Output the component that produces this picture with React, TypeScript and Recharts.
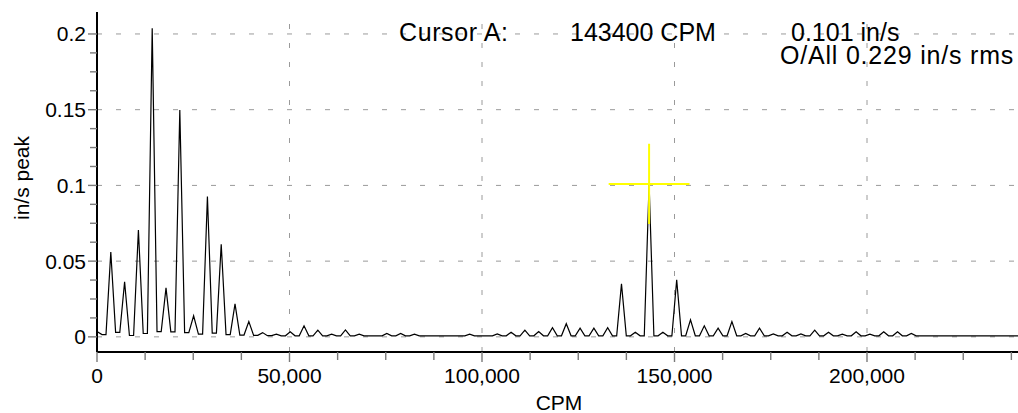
import React from 'react';
import { LineChart, Line, XAxis, YAxis, ReferenceLine } from 'recharts';

const FONT = '"Liberation Sans", Arial, Helvetica, sans-serif';

// Spectral lines: running-speed harmonics (CPM) and their peak amplitudes (in/s peak)
const harmonicCpm = [
  3585, 7170, 10755, 14340, 17925, 21510, 25095, 28680, 32265, 35850,
  39435, 43020, 46605, 50190, 53775, 57360, 60945, 64530, 68115, 71700,
  75285, 78870, 82455, 86040, 89625, 93210, 96795, 100380, 103965, 107550,
  111135, 114720, 118305, 121890, 125475, 129060, 132645, 136230, 139815, 143400,
  146985, 150570, 154155, 157740, 161325, 164910, 168495, 172080, 175665, 179250,
  182835, 186420, 190005, 193590, 197175, 200760, 204345, 207930, 211515,
];

const harmonicPeak = [
  0.056, 0.0363, 0.0706, 0.2037, 0.0323, 0.1498, 0.0139, 0.0926, 0.0612, 0.0218,
  0.0101, 0.0028, 0.0018, 0.0033, 0.0073, 0.0044, 0.0018, 0.0046, 0.0018, 0.0007,
  0.0022, 0.0022, 0.0018, 0.0007, 0.0007, 0.0007, 0.0018, 0.0007, 0.002, 0.0031,
  0.0044, 0.0035, 0.006, 0.0087, 0.0057, 0.0057, 0.006, 0.035, 0.003, 0.101,
  0.003, 0.0376, 0.0112, 0.0073, 0.0057, 0.0101, 0.0022, 0.0057, 0.002, 0.003,
  0.002, 0.0044, 0.003, 0.0018, 0.0033, 0.0018, 0.0033, 0.0033, 0.0022,
];

// Noise floor in the gap that follows each spectral line
const valleyAfter = [
  0.003, 0.0009, 0.0022, 0.0035, 0.0033, 0.0028, 0.0018, 0.0025, 0.0015, 0.0012,
  0.001, 0.0008, 0.0007, 0.0007, 0.0007, 0.0007, 0.0007, 0.0007, 0.0007, 0.0007,
  0.0007, 0.0007, 0.0007, 0.0007, 0.0007, 0.0007, 0.0007, 0.0007, 0.0007, 0.0007,
  0.0007, 0.0007, 0.0007, 0.0007, 0.0007, 0.0007, 0.0007, 0.0007, 0.0007, 0.0007,
  0.0007, 0.0007, 0.0007, 0.0007, 0.0007, 0.0007, 0.0007, 0.0007, 0.0007, 0.0007,
  0.0007, 0.0007, 0.0007, 0.0007, 0.0007, 0.0007, 0.0007, 0.0007, 0.0007,
];

const spectrumStart = [
  { cpm: 0, v: 0.0035 },
  { cpm: 1300, v: 0.0015 },
];
const spectrumEnd = { cpm: 240000, v: 0.0007 };

// Cursor readout
const cursorCpm = 143400;
const cursorValue = 0.101;
const overallRms = 0.229;

// Axis ticks
const xTicks = [
  0, 12500, 25000, 37500, 50000, 62500, 75000, 87500, 100000, 112500,
  125000, 137500, 150000, 162500, 175000, 187500, 200000, 212500, 225000, 237500,
];
const xMajor = [0, 50000, 100000, 150000, 200000];
const yTicks = [
  0, 0.0125, 0.025, 0.0375, 0.05, 0.0625, 0.075, 0.0875, 0.1,
  0.1125, 0.125, 0.1375, 0.15, 0.1625, 0.175, 0.1875, 0.2,
];
const yMajor = [0, 0.05, 0.1, 0.15, 0.2];

// half-width of each spectral line at its base, CPM
const LINE_HALF_WIDTH = 1250;
// crosshair half extents
const CROSS_HALF_X = 10500;
const CROSS_HALF_Y = 0.0265;

function buildSpectrum() {
  const pts: { cpm: number; v: number }[] = [...spectrumStart];
  let prev = spectrumStart[spectrumStart.length - 1].v;
  harmonicCpm.forEach((c, i) => {
    pts.push({ cpm: c - LINE_HALF_WIDTH, v: prev });
    pts.push({ cpm: c, v: harmonicPeak[i] });
    pts.push({ cpm: c + LINE_HALF_WIDTH, v: valleyAfter[i] });
    prev = valleyAfter[i];
  });
  pts.push(spectrumEnd);
  return pts;
}

const spectrum = buildSpectrum();

// Cursor crosshair arms, centred on the cursor reading
const crossH = [
  { cpm: cursorCpm - CROSS_HALF_X, v: cursorValue },
  { cpm: cursorCpm + CROSS_HALF_X, v: cursorValue },
];
const crossV = [
  { cpm: cursorCpm, v: cursorValue - CROSS_HALF_Y },
  { cpm: cursorCpm, v: cursorValue + CROSS_HALF_Y },
];

const isMajor = (list: number[], v: number) => list.some((m) => Math.abs(m - v) < 1e-9);

const XTick = (props: any) => {
  const { x, y, payload } = props;
  const major = isMajor(xMajor, payload.value);
  return (
    <g>
      <line x1={x} x2={x} y1={y} y2={y + (major ? 10 : 8)} stroke="#7a7a7a" strokeWidth={1.4} />
      {major && (
        <text x={x} y={y + 31} textAnchor="middle" fontSize={21} fontFamily={FONT} fill="#000">
          {payload.value.toLocaleString('en-US')}
        </text>
      )}
    </g>
  );
};

const YTick = (props: any) => {
  const { x, y, payload } = props;
  const major = isMajor(yMajor, payload.value);
  return (
    <g>
      <line x1={x - (major ? 9 : 7)} x2={x} y1={y} y2={y} stroke="#7a7a7a" strokeWidth={1.4} />
      {major && (
        <text
          x={x - 11}
          y={y}
          textAnchor="end"
          dominantBaseline="central"
          fontSize={21}
          fontFamily={FONT}
          fill="#000"
        >
          {String(payload.value)}
        </text>
      )}
    </g>
  );
};

const gridStyle = { stroke: '#9a9a9a', strokeWidth: 1, strokeDasharray: '5 14' };

export default function App() {
  return (
    <div style={{ position: 'absolute', left: 0, top: 0, width: 1018, height: 413, overflow: 'hidden', background: '#fff' }}>
      <LineChart
        width={1030}
        height={413}
        data={spectrum}
        margin={{ top: 12, right: 9, left: 0, bottom: 0 }}
      >
        <XAxis
          dataKey="cpm"
          type="number"
          domain={[0, 240000]}
          allowDataOverflow
          ticks={xTicks}
          interval={0}
          tick={<XTick />}
          tickLine={false}
          tickSize={0}
          tickMargin={0}
          height={61}
          axisLine={{ stroke: '#000', strokeWidth: 2 }}
          label={(p: any) => {
            const vb = p.viewBox || { x: 97, y: 352, width: 924, height: 61 };
            return (
              <text x={vb.x + vb.width / 2} y={vb.y + 58} textAnchor="middle" fontSize={21} fontFamily={FONT} fill="#000">
                CPM
              </text>
            );
          }}
        />
        <YAxis
          type="number"
          domain={[-0.01, 0.2145]}
          allowDataOverflow
          ticks={yTicks}
          interval={0}
          tick={<YTick />}
          tickLine={false}
          tickSize={0}
          tickMargin={0}
          width={97}
          axisLine={{ stroke: '#000', strokeWidth: 2 }}
          label={(p: any) => {
            const vb = p.viewBox || { x: 0, y: 12, width: 97, height: 340 };
            const cx = 21;
            const cy = vb.y + vb.height / 2 - 4;
            return (
              <text
                x={cx}
                y={cy}
                transform={`rotate(-90 ${cx} ${cy})`}
                textAnchor="middle"
                dominantBaseline="central"
                fontSize={21}
                fontFamily={FONT}
                fill="#000"
              >
                in/s peak
              </text>
            );
          }}
        />
        {yMajor.map((v) => (
          <ReferenceLine key={`gy${v}`} y={v} {...gridStyle} />
        ))}
        {xMajor.filter((v) => v > 0).map((v) => (
          <ReferenceLine key={`gx${v}`} x={v} {...gridStyle} />
        ))}
        <Line
          type="linear"
          dataKey="v"
          stroke="#000"
          strokeWidth={1.2}
          dot={false}
          activeDot={false}
          isAnimationActive={false}
        />
        <Line
          data={crossH}
          type="linear"
          dataKey="v"
          stroke="#ffff00"
          strokeWidth={2}
          dot={false}
          activeDot={false}
          isAnimationActive={false}
        />
        <Line
          data={crossV}
          type="linear"
          dataKey="v"
          stroke="#ffff00"
          strokeWidth={2}
          dot={false}
          activeDot={false}
          isAnimationActive={false}
        />
      </LineChart>
      <svg
        width={1018}
        height={413}
        style={{ position: 'absolute', left: 0, top: 0, pointerEvents: 'none' }}
      >
        <g fontFamily={FONT} fontSize={25} fill="#000">
          <text x={399} y={41} letterSpacing={0.6}>Cursor A:</text>
          <text x={570} y={41}>{`${cursorCpm} CPM`}</text>
          <text x={791} y={41}>{`${cursorValue} in/s`}</text>
          <text x={780} y={64} letterSpacing={0.8}>{`O/All ${overallRms} in/s rms`}</text>
        </g>
      </svg>
    </div>
  );
}
